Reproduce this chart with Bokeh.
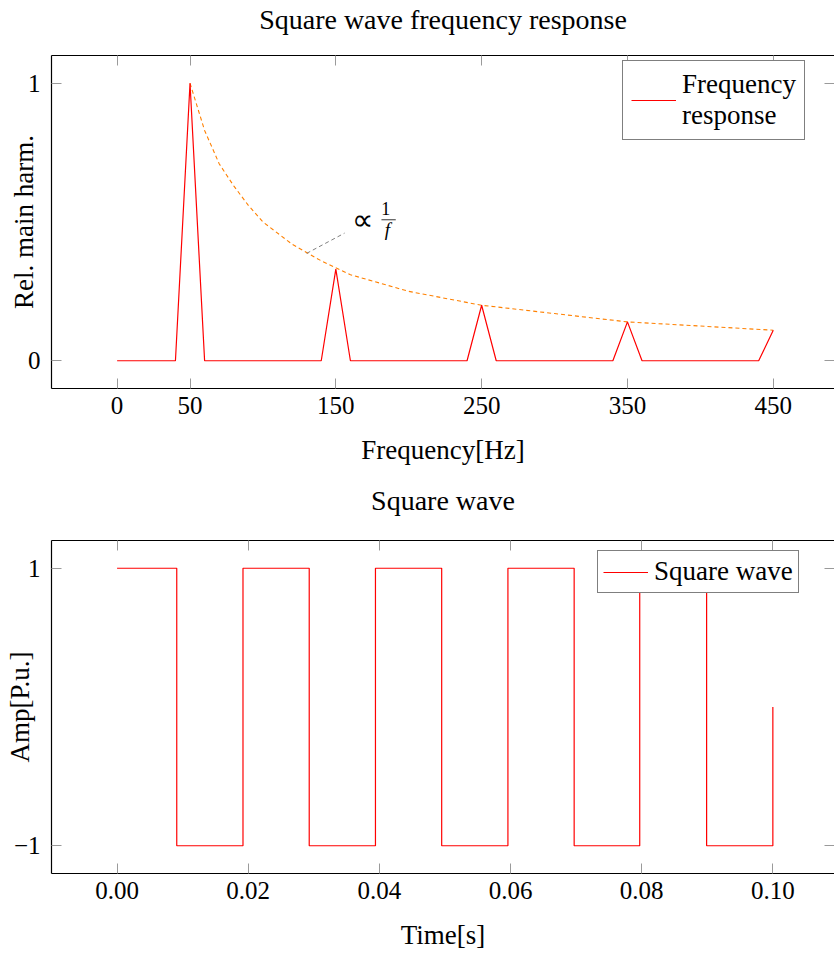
from bokeh.plotting import figure
from bokeh.layouts import column
from bokeh.models import FixedTicker, LinearAxis, Range1d, Label, PrintfTickFormatter
from bokeh.embed import file_html
from bokeh.resources import INLINE

# ---------------- data ----------------
# Frequency response (relative main harmonic)
freq_hz = [0, 40, 50, 60, 140, 150, 160, 240, 250, 260, 340, 350, 360, 440, 450]
rel_harm = [0, 0, 1.0, 0, 0, 0.33, 0, 0, 0.2, 0, 0, 0.14, 0, 0, 0.11]

# 1/f envelope (dashed)
env_f = [50, 60, 70, 80, 90, 100, 120, 140, 160, 180, 200, 250, 300, 350, 400, 450]
env_v = [1.0, 0.83, 0.71, 0.63, 0.56, 0.5, 0.42, 0.36, 0.31, 0.28, 0.25, 0.2, 0.17, 0.14, 0.125, 0.11]

freq_ticks = [0, 50, 150, 250, 350, 450]
harm_ticks = [0, 1]

# Square wave: switching instants and levels (step "after")
sq_t = [0.0, 0.0091, 0.0192, 0.0293, 0.0394, 0.0495, 0.0596, 0.0697, 0.0797, 0.0899, 0.1]
sq_v = [1, -1, 1, -1, 1, -1, 1, -1, 1, -1, 0]

time_ticks = [0.0, 0.02, 0.04, 0.06, 0.08, 0.10]
amp_ticks = [-1, 1]

# annotation "∝ 1/f"
annot_line_x = [130, 156]
annot_line_y = [0.387, 0.46]

FONT = "Liberation Serif"
TICK_SIZE = "25px"
TEXT_SIZE = "27px"
TITLE_SIZE = "28px"
TICK_COLOR = "#9a9a9a"


def style(p, title, xticks, yticks, xlabel, ylabel, ylab_standoff, title_gap,
          xfmt=None, yoverrides=None):
    p.outline_line_color = None
    p.grid.visible = False
    p.background_fill_color = "white"
    p.border_fill_color = "white"
    xa = p.xaxis[0]
    ya = p.yaxis[0]
    xa.ticker = FixedTicker(ticks=xticks)
    ya.ticker = FixedTicker(ticks=yticks)
    if xfmt:
        xa.formatter = PrintfTickFormatter(format=xfmt)
    if yoverrides:
        ya.major_label_overrides = yoverrides
    for ax in (xa, ya):
        ax.major_tick_in = 10
        ax.major_tick_out = 0
        ax.minor_tick_in = 0
        ax.minor_tick_out = 0
        ax.major_tick_line_color = TICK_COLOR
        ax.axis_line_color = "black"
        ax.axis_line_width = 1.2
        ax.major_label_text_font = FONT
        ax.major_label_text_font_size = TICK_SIZE
        ax.major_label_text_color = "black"
        ax.axis_label_text_font = FONT
        ax.axis_label_text_font_size = TEXT_SIZE
        ax.axis_label_text_font_style = "normal"
        ax.axis_label_text_color = "black"
    xa.axis_label = xlabel
    ya.axis_label = ylabel
    xa.major_label_standoff = 8
    xa.axis_label_standoff = 18
    ya.major_label_standoff = 11
    ya.axis_label_standoff = ylab_standoff

    # mirrored ticks on top (carrying the plot title) and on the right, no tick labels
    top = LinearAxis(ticker=FixedTicker(ticks=xticks), major_label_text_font_size="0px",
                     major_label_text_color=None,
                     major_label_standoff=0, major_tick_in=10, major_tick_out=0,
                     minor_tick_in=0, minor_tick_out=0, major_tick_line_color=TICK_COLOR,
                     axis_line_color="black", axis_line_width=1.2,
                     axis_label=title, axis_label_text_font=FONT,
                     axis_label_text_font_size=TITLE_SIZE, axis_label_text_font_style="normal",
                     axis_label_text_color="black", axis_label_standoff=title_gap)
    right = LinearAxis(ticker=FixedTicker(ticks=yticks), major_label_text_font_size="0px",
                       major_label_text_color=None,
                       major_label_standoff=0, major_tick_in=10, major_tick_out=0,
                       minor_tick_in=0, minor_tick_out=0, major_tick_line_color=TICK_COLOR,
                       axis_line_color=None)
    p.add_layout(top, "above")
    p.add_layout(right, "right")


def style_legend(lg, loc, padding):
    lg.location = loc
    lg.margin = 0
    lg.padding = padding
    lg.glyph_width = 45
    lg.label_standoff = 6
    lg.label_text_font = FONT
    lg.label_text_font_size = TEXT_SIZE
    lg.label_text_color = "black"
    lg.border_line_color = "black"
    lg.border_line_width = 1
    lg.background_fill_alpha = 1


# ---------------- top: frequency response ----------------
p1 = figure(width=834, height=478, x_range=Range1d(-45, 492), y_range=Range1d(-0.1, 1.1),
            output_backend="svg", toolbar_location=None,
            min_border_left=51, min_border_right=0, min_border_top=55, min_border_bottom=90)
style(p1, "Square wave frequency response", freq_ticks, harm_ticks,
      "Frequency[Hz]", "Rel. main harm.", -14, 21)

p1.line(env_f, env_v, line_color="#ff8000", line_dash="4 3", line_width=1.1)
p1.line(freq_hz, rel_harm, line_color="red", line_width=1.2, legend_label="Frequency\nresponse")
p1.line(annot_line_x, annot_line_y, line_color="#808080", line_dash="4 3", line_width=1)

p1.add_layout(Label(x=161, y=0.509, text="∝", text_font=FONT, text_font_size="30px",
                    text_baseline="middle", text_align="left", text_color="black"))
p1.add_layout(Label(x=184.2, y=0.547, text="1", text_font=FONT, text_font_size="18px",
                    text_baseline="middle", text_align="center", text_color="black"))
p1.line([181.3, 191.1], [0.508, 0.508], line_color="black", line_width=0.8)
p1.add_layout(Label(x=185.4, y=0.473, text="f", text_font=FONT, text_font_size="19px",
                    text_font_style="italic",
                    text_baseline="middle", text_align="center", text_color="black"))

style_legend(p1.legend[0], (571, 248), 8)

# ---------------- bottom: square wave ----------------
p2 = figure(width=834, height=476, x_range=Range1d(-0.01, 0.1094), y_range=Range1d(-1.2, 1.2),
            output_backend="svg", toolbar_location=None,
            min_border_left=51, min_border_right=0, min_border_top=62, min_border_bottom=81)
style(p2, "Square wave", time_ticks, amp_ticks, "Time[s]", "Amp[P.u.]", -24, 25,
      xfmt="%.2f", yoverrides={-1: "\u22121", 1: "1"})

p2.step(sq_t, sq_v, mode="after", line_color="red", line_width=1.2, legend_label="Square wave")

style_legend(p2.legend[0], (546, 280), 5)

layout = column(p1, p2, spacing=0)
open("out.html", "w").write(file_html(layout, INLINE))
